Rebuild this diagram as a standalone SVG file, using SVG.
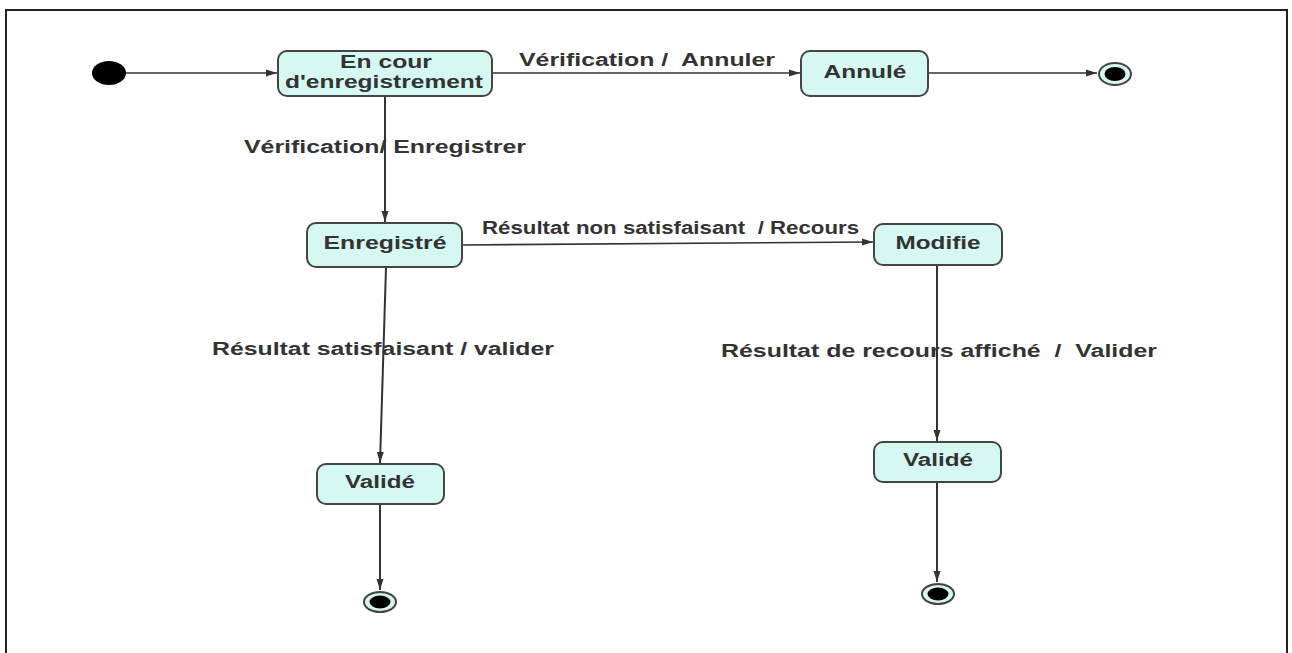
<svg xmlns="http://www.w3.org/2000/svg" width="1292" height="653" viewBox="0 0 1292 653">
  <style>
    .frame { fill: #ffffff; stroke: #222; stroke-width: 2; }
    .state { fill: #d6f8f2; stroke: #444; stroke-width: 2; }
    .label { font-family: "Liberation Sans", Arial, sans-serif; font-weight: bold; font-size: 18px; fill: #333; white-space: pre; }
    .name { font-family: "Liberation Sans", Arial, sans-serif; font-weight: bold; font-size: 18px; fill: #333; text-anchor: middle; }
    .edge { fill: none; stroke: #333; stroke-width: 2; }
    .edge.thin { stroke-width: 1.6; }
    .final-ring { fill: #d6f8f2; stroke: #444; stroke-width: 2; }
  </style>
  <defs>
    <marker id="arrow" markerUnits="userSpaceOnUse" markerWidth="12" markerHeight="10" refX="11" refY="5" orient="auto">
      <path d="M0,1.5 L11,5 L0,8.5 Z" fill="#333"/>
    </marker>
  </defs>

  <rect class="frame" x="6" y="10" width="1281" height="660"/>

  <!-- transitions -->
  <g id="connectors">
    <line class="edge thin" x1="126" y1="73" x2="277" y2="73" marker-end="url(#arrow)"/>
    <line class="edge thin" x1="492" y1="73" x2="800" y2="73" marker-end="url(#arrow)"/>
    <line class="edge thin" x1="928" y1="73" x2="1097" y2="73" marker-end="url(#arrow)"/>
    <line class="edge" x1="385" y1="96" x2="385" y2="222" marker-end="url(#arrow)"/>
    <line class="edge thin" x1="462" y1="245" x2="873" y2="242" marker-end="url(#arrow)"/>
    <line class="edge" x1="386" y1="267" x2="380" y2="463" marker-end="url(#arrow)"/>
    <line class="edge" x1="937" y1="265" x2="937" y2="441" marker-end="url(#arrow)"/>
    <line class="edge" x1="380" y1="504" x2="380" y2="590" marker-end="url(#arrow)"/>
    <line class="edge" x1="937" y1="482" x2="937" y2="582" marker-end="url(#arrow)"/>

    <text class="label" x="519" y="66" textLength="256" lengthAdjust="spacingAndGlyphs">Vérification /  Annuler</text>
    <text class="label" x="244" y="153" textLength="282" lengthAdjust="spacingAndGlyphs">Vérification/ Enregistrer</text>
    <text class="label" x="482" y="234" textLength="377" lengthAdjust="spacingAndGlyphs">Résultat non satisfaisant  / Recours</text>
    <text class="label" x="212" y="355" textLength="342" lengthAdjust="spacingAndGlyphs">Résultat satisfaisant / valider</text>
    <text class="label" x="721" y="357" textLength="436" lengthAdjust="spacingAndGlyphs">Résultat de recours affiché  /  Valider</text>
  </g>

  <g id="initial">
    <ellipse cx="109" cy="73" rx="17" ry="12" fill="#000"/>
  </g>

  <g id="en-cours">
    <rect class="state" x="278" y="51" width="214" height="45" rx="9"/>
    <text class="name" x="386" y="68" textLength="92" lengthAdjust="spacingAndGlyphs">En cour</text>
    <text class="name" x="384" y="88" textLength="198" lengthAdjust="spacingAndGlyphs">d'enregistrement</text>
  </g>

  <g id="annule">
    <rect class="state" x="801" y="51" width="127" height="45" rx="9"/>
    <text class="name" x="865" y="78" textLength="83" lengthAdjust="spacingAndGlyphs">Annulé</text>
  </g>

  <g id="final-annule">
    <ellipse class="final-ring" cx="1115" cy="74" rx="16" ry="11"/>
    <ellipse cx="1115" cy="74" rx="10.5" ry="7" fill="#000"/>
  </g>

  <g id="enregistre">
    <rect class="state" x="307" y="223" width="155" height="44" rx="9"/>
    <text class="name" x="385" y="249" textLength="123" lengthAdjust="spacingAndGlyphs">Enregistré</text>
  </g>

  <g id="modifie">
    <rect class="state" x="874" y="224" width="128" height="41" rx="9"/>
    <text class="name" x="938" y="249" textLength="85" lengthAdjust="spacingAndGlyphs">Modifie</text>
  </g>

  <g id="valide-1">
    <rect class="state" x="317" y="464" width="127" height="40" rx="9"/>
    <text class="name" x="380" y="488" textLength="70" lengthAdjust="spacingAndGlyphs">Validé</text>
  </g>

  <g id="valide-2">
    <rect class="state" x="874" y="442" width="127" height="40" rx="9"/>
    <text class="name" x="938" y="466" textLength="70" lengthAdjust="spacingAndGlyphs">Validé</text>
  </g>

  <g id="final-1">
    <ellipse class="final-ring" cx="380" cy="602" rx="16" ry="10"/>
    <ellipse cx="380" cy="602" rx="10.5" ry="6.5" fill="#000"/>
  </g>

  <g id="final-2">
    <ellipse class="final-ring" cx="938" cy="594" rx="16" ry="10"/>
    <ellipse cx="938" cy="594" rx="10.5" ry="6.5" fill="#000"/>
  </g>
</svg>
